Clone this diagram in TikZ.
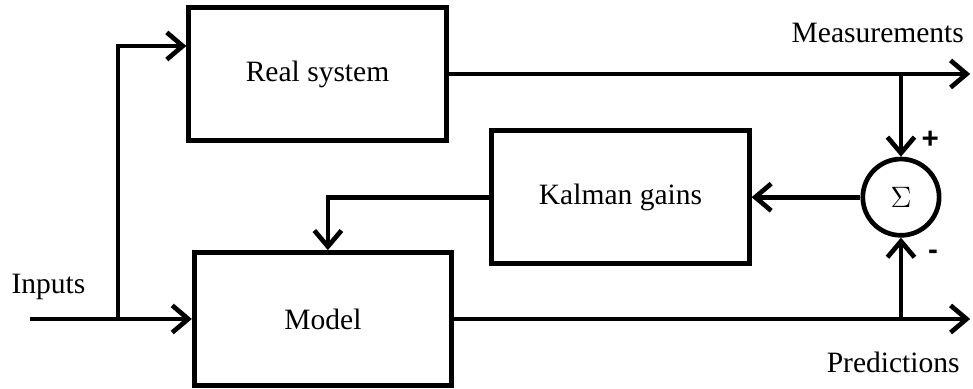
\documentclass[tikz,border=0pt]{standalone}
\usepackage{fontspec}
\setmainfont{Liberation Serif}
\newfontfamily\signfont{Liberation Sans}
\usetikzlibrary{arrows.meta}
\tikzset{
  block/.style={draw,line width=1.9pt,minimum width=3.68cm,minimum height=1.9cm,font=\fontsize{12}{14}\selectfont},
  sumnode/.style={draw,circle,line width=1.9pt,minimum size=1.09cm,inner sep=0pt},
  sig/.style={-{Straight Barb[length=6.5pt,width=11pt]},line width=1.9pt},
  lbl/.style={font=\fontsize{12}{14}\selectfont},
  sgn/.style={font=\signfont\bfseries\fontsize{12}{14}\selectfont}
}
\begin{document}
\begin{tikzpicture}
\useasboundingbox (0,0) rectangle (13.9,5.557);
% blocks
\node[block] (real) at (4.536,4.5){Real system};
\node[block] (kal) at (8.864,2.74){Kalman gains};
\node[block] (mod) at (4.614,1.0){Model};
\node[sumnode] (sum) at (12.871,2.74){\large$\Sigma$};
% free ends
\coordinate (in) at (0.43,1.0);
\coordinate (split) at (1.686,1.0);
\coordinate (meas) at (13.86,4.5);
\coordinate (pred) at (13.86,1.0);
% signals
\draw[sig] (in) -- (mod.west);
\draw[sig] (split) |- ([yshift=0.4cm]real.west);
\draw[sig] (real.east) -- (meas);
\draw[sig] (mod.east) -- (pred);
\draw[sig] (real.east -| sum.center) -- (sum.north);
\draw[sig] (mod.east -| sum.center) -- (sum.south);
\draw[sig] (sum.west) -- (kal.east);
\draw[sig] (kal.west) -| ([xshift=0.07cm]mod.north);
% labels
\node[lbl] (inlbl) at (0.693,1.457){Inputs};
\node[lbl] (measlbl) at (12.54,5.086){Measurements};
\node[lbl] (predlbl) at (12.76,0.386){Predictions};
\node[sgn] (plus) at (13.29,3.557){+};
\node[sgn] (minus) at (13.33,1.914){-};
\end{tikzpicture}
\end{document}
